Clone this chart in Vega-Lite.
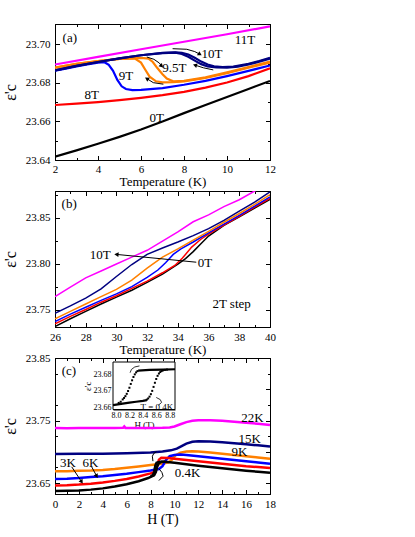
{
"$schema":"https://vega.github.io/schema/vega-lite/v6.json",
"padding":{"left":1,"top":23,"right":5,"bottom":5},
"bounds":"flush",
"spacing":31,
"datasets":{
"a":[
{"f":"0T","s":"0T","x":2,"y":23.6417},{"f":"0T","s":"0T","x":3,"y":23.645},{"f":"0T","s":"0T","x":4,"y":23.6484},{"f":"0T","s":"0T","x":5,"y":23.652},{"f":"0T","s":"0T","x":6,"y":23.6558},{"f":"0T","s":"0T","x":7,"y":23.66},{"f":"0T","s":"0T","x":8,"y":23.6643},{"f":"0T","s":"0T","x":9,"y":23.6685},{"f":"0T","s":"0T","x":10,"y":23.6727},{"f":"0T","s":"0T","x":11,"y":23.6768},{"f":"0T","s":"0T","x":12,"y":23.681},
{"f":"8T","s":"8T","x":2,"y":23.6685},{"f":"8T","s":"8T","x":3,"y":23.6692},{"f":"8T","s":"8T","x":4,"y":23.67},{"f":"8T","s":"8T","x":5,"y":23.671},{"f":"8T","s":"8T","x":6,"y":23.6722},{"f":"8T","s":"8T","x":7,"y":23.6736},{"f":"8T","s":"8T","x":8,"y":23.6753},{"f":"8T","s":"8T","x":9,"y":23.6775},{"f":"8T","s":"8T","x":10,"y":23.6802},{"f":"8T","s":"8T","x":11,"y":23.6835},{"f":"8T","s":"8T","x":12,"y":23.6875},
{"f":"9T","s":"9T","x":2,"y":23.6863},{"f":"9T","s":"9T","x":2.5,"y":23.6874},{"f":"9T","s":"9T","x":3,"y":23.6885},{"f":"9T","s":"9T","x":3.5,"y":23.6896},{"f":"9T","s":"9T","x":4,"y":23.6905},{"f":"9T","s":"9T","x":4.3,"y":23.6907},{"f":"9T","s":"9T","x":4.5,"y":23.6893},{"f":"9T","s":"9T","x":4.7,"y":23.6862},{"f":"9T","s":"9T","x":4.9,"y":23.6815},{"f":"9T","s":"9T","x":5.1,"y":23.6782},{"f":"9T","s":"9T","x":5.3,"y":23.6768},{"f":"9T","s":"9T","x":5.6,"y":23.6762},{"f":"9T","s":"9T","x":6,"y":23.6764},{"f":"9T","s":"9T","x":7,"y":23.6773},{"f":"9T","s":"9T","x":8,"y":23.679},{"f":"9T","s":"9T","x":9,"y":23.681},{"f":"9T","s":"9T","x":10,"y":23.6835},{"f":"9T","s":"9T","x":11,"y":23.6862},{"f":"9T","s":"9T","x":12,"y":23.689},
{"f":"9.5T","s":"9.5a","x":2,"y":23.6879},{"f":"9.5T","s":"9.5a","x":3,"y":23.6898},{"f":"9.5T","s":"9.5a","x":4,"y":23.6913},{"f":"9.5T","s":"9.5a","x":5,"y":23.6924},{"f":"9.5T","s":"9.5a","x":5.7,"y":23.6927},{"f":"9.5T","s":"9.5a","x":6,"y":23.6905},{"f":"9.5T","s":"9.5a","x":6.2,"y":23.6868},{"f":"9.5T","s":"9.5a","x":6.4,"y":23.6832},{"f":"9.5T","s":"9.5a","x":6.7,"y":23.6808},{"f":"9.5T","s":"9.5a","x":7,"y":23.6802},{"f":"9.5T","s":"9.5a","x":7.5,"y":23.6803},{"f":"9.5T","s":"9.5a","x":8,"y":23.6808},{"f":"9.5T","s":"9.5a","x":9,"y":23.6825},{"f":"9.5T","s":"9.5a","x":10,"y":23.685},{"f":"9.5T","s":"9.5a","x":11,"y":23.6878},{"f":"9.5T","s":"9.5a","x":12,"y":23.6905},
{"f":"9.5T","s":"9.5b","x":2,"y":23.6879},{"f":"9.5T","s":"9.5b","x":3,"y":23.6898},{"f":"9.5T","s":"9.5b","x":4,"y":23.6913},{"f":"9.5T","s":"9.5b","x":5,"y":23.6924},{"f":"9.5T","s":"9.5b","x":6,"y":23.6929},{"f":"9.5T","s":"9.5b","x":6.35,"y":23.6926},{"f":"9.5T","s":"9.5b","x":6.55,"y":23.6908},{"f":"9.5T","s":"9.5b","x":6.75,"y":23.6878},{"f":"9.5T","s":"9.5b","x":7,"y":23.6845},{"f":"9.5T","s":"9.5b","x":7.2,"y":23.6822},{"f":"9.5T","s":"9.5b","x":7.5,"y":23.6808},{"f":"9.5T","s":"9.5b","x":8,"y":23.681},{"f":"9.5T","s":"9.5b","x":9,"y":23.6828},{"f":"9.5T","s":"9.5b","x":10,"y":23.6854},{"f":"9.5T","s":"9.5b","x":11,"y":23.6882},{"f":"9.5T","s":"9.5b","x":12,"y":23.691},
{"f":"10T","s":"10a","x":2,"y":23.6865},{"f":"10T","s":"10a","x":3,"y":23.6888},{"f":"10T","s":"10a","x":4,"y":23.6908},{"f":"10T","s":"10a","x":5,"y":23.6927},{"f":"10T","s":"10a","x":6,"y":23.6943},{"f":"10T","s":"10a","x":7,"y":23.6954},{"f":"10T","s":"10a","x":7.6,"y":23.6957},{"f":"10T","s":"10a","x":7.9,"y":23.695},{"f":"10T","s":"10a","x":8.2,"y":23.6935},{"f":"10T","s":"10a","x":8.5,"y":23.6915},{"f":"10T","s":"10a","x":8.8,"y":23.6897},{"f":"10T","s":"10a","x":9.1,"y":23.6885},{"f":"10T","s":"10a","x":9.5,"y":23.688},{"f":"10T","s":"10a","x":10,"y":23.6879},{"f":"10T","s":"10a","x":10.5,"y":23.6884},{"f":"10T","s":"10a","x":11,"y":23.6895},{"f":"10T","s":"10a","x":11.5,"y":23.691},{"f":"10T","s":"10a","x":12,"y":23.6926},
{"f":"10T","s":"10b","x":2,"y":23.6865},{"f":"10T","s":"10b","x":3,"y":23.6888},{"f":"10T","s":"10b","x":4,"y":23.6908},{"f":"10T","s":"10b","x":5,"y":23.6927},{"f":"10T","s":"10b","x":6,"y":23.6943},{"f":"10T","s":"10b","x":7,"y":23.6955},{"f":"10T","s":"10b","x":7.6,"y":23.6958},{"f":"10T","s":"10b","x":7.9,"y":23.6956},{"f":"10T","s":"10b","x":8.2,"y":23.6947},{"f":"10T","s":"10b","x":8.5,"y":23.693},{"f":"10T","s":"10b","x":8.8,"y":23.691},{"f":"10T","s":"10b","x":9.1,"y":23.6895},{"f":"10T","s":"10b","x":9.4,"y":23.6886},{"f":"10T","s":"10b","x":9.8,"y":23.6882},{"f":"10T","s":"10b","x":10.3,"y":23.6884},{"f":"10T","s":"10b","x":11,"y":23.6898},{"f":"10T","s":"10b","x":11.5,"y":23.6913},{"f":"10T","s":"10b","x":12,"y":23.693},
{"f":"11T","s":"11T","x":2,"y":23.6895},{"f":"11T","s":"11T","x":4,"y":23.6935},{"f":"11T","s":"11T","x":6,"y":23.6974},{"f":"11T","s":"11T","x":8,"y":23.7013},{"f":"11T","s":"11T","x":10,"y":23.7052},{"f":"11T","s":"11T","x":12,"y":23.7093}
],
"aText":[
{"x":2.69,"y":23.7034,"t":"(a)"},{"x":10.84,"y":23.7022,"t":"11T"},{"x":9.3,"y":23.6948,"t":"10T"},{"x":7.55,"y":23.6875,"t":"9.5T"},{"x":5.3,"y":23.6836,"t":"9T"},{"x":3.71,"y":23.6736,"t":"8T"},{"x":6.73,"y":23.662,"t":"0T"}
],
"aArrow":[
{"a":"A1","i":0,"x":7.47,"y":23.6977},{"a":"A1","i":1,"x":8.13,"y":23.6974},{"a":"A1","i":2,"x":8.5,"y":23.6962},{"a":"A1","i":3,"x":8.74,"y":23.6948},
{"a":"A2","i":0,"x":9.36,"y":23.6867},{"a":"A2","i":1,"x":8.9,"y":23.6878},{"a":"A2","i":2,"x":8.51,"y":23.6892},
{"a":"A3","i":0,"x":6.27,"y":23.6934},{"a":"A3","i":1,"x":6.6,"y":23.6922},{"a":"A3","i":2,"x":6.85,"y":23.6903},{"a":"A3","i":3,"x":6.96,"y":23.6887},
{"a":"A4","i":0,"x":7.04,"y":23.6793},{"a":"A4","i":1,"x":6.57,"y":23.6801},{"a":"A4","i":2,"x":6.27,"y":23.6822}
],
"b":[
{"f":"0T","x":26,"y":23.7315},{"f":"0T","x":27,"y":23.74},{"f":"0T","x":28,"y":23.748},{"f":"0T","x":29,"y":23.756},{"f":"0T","x":30,"y":23.7635},{"f":"0T","x":31,"y":23.771},{"f":"0T","x":32,"y":23.7795},{"f":"0T","x":33,"y":23.7885},{"f":"0T","x":34,"y":23.7995},{"f":"0T","x":34.5,"y":23.8055},{"f":"0T","x":35,"y":23.813},{"f":"0T","x":35.5,"y":23.8215},{"f":"0T","x":36,"y":23.83},{"f":"0T","x":37,"y":23.8415},{"f":"0T","x":38,"y":23.851},{"f":"0T","x":39,"y":23.8605},{"f":"0T","x":40,"y":23.87},
{"f":"2T","x":26,"y":23.7345},{"f":"2T","x":27,"y":23.7425},{"f":"2T","x":28,"y":23.75},{"f":"2T","x":29,"y":23.758},{"f":"2T","x":30,"y":23.765},{"f":"2T","x":31,"y":23.773},{"f":"2T","x":32,"y":23.781},{"f":"2T","x":33,"y":23.79},{"f":"2T","x":33.8,"y":23.798},{"f":"2T","x":34.3,"y":23.806},{"f":"2T","x":34.9,"y":23.818},{"f":"2T","x":35.5,"y":23.8265},{"f":"2T","x":36,"y":23.832},{"f":"2T","x":37,"y":23.842},{"f":"2T","x":38,"y":23.8515},{"f":"2T","x":39,"y":23.8615},{"f":"2T","x":40,"y":23.871},
{"f":"4T","x":26,"y":23.737},{"f":"4T","x":27,"y":23.745},{"f":"4T","x":28,"y":23.7525},{"f":"4T","x":29,"y":23.76},{"f":"4T","x":30,"y":23.767},{"f":"4T","x":31,"y":23.775},{"f":"4T","x":32,"y":23.785},{"f":"4T","x":32.7,"y":23.793},{"f":"4T","x":33.2,"y":23.801},{"f":"4T","x":33.7,"y":23.81},{"f":"4T","x":34.2,"y":23.816},{"f":"4T","x":35,"y":23.8235},{"f":"4T","x":36,"y":23.8335},{"f":"4T","x":37,"y":23.843},{"f":"4T","x":38,"y":23.8525},{"f":"4T","x":39,"y":23.8625},{"f":"4T","x":40,"y":23.8725},
{"f":"6T","x":26,"y":23.74},{"f":"6T","x":27,"y":23.748},{"f":"6T","x":28,"y":23.756},{"f":"6T","x":29,"y":23.764},{"f":"6T","x":30,"y":23.772},{"f":"6T","x":31,"y":23.782},{"f":"6T","x":32,"y":23.795},{"f":"6T","x":33,"y":23.807},{"f":"6T","x":34,"y":23.816},{"f":"6T","x":35,"y":23.8255},{"f":"6T","x":36,"y":23.835},{"f":"6T","x":37,"y":23.845},{"f":"6T","x":38,"y":23.8545},{"f":"6T","x":39,"y":23.8645},{"f":"6T","x":40,"y":23.875},
{"f":"8T","x":26,"y":23.746},{"f":"8T","x":27,"y":23.754},{"f":"8T","x":28,"y":23.7625},{"f":"8T","x":29,"y":23.7725},{"f":"8T","x":30,"y":23.786},{"f":"8T","x":31,"y":23.799},{"f":"8T","x":32,"y":23.81},{"f":"8T","x":33,"y":23.817},{"f":"8T","x":34,"y":23.8235},{"f":"8T","x":35,"y":23.8305},{"f":"8T","x":36,"y":23.838},{"f":"8T","x":37,"y":23.847},{"f":"8T","x":38,"y":23.857},{"f":"8T","x":39,"y":23.867},{"f":"8T","x":40,"y":23.878},
{"f":"10T","x":26,"y":23.764},{"f":"10T","x":27,"y":23.7745},{"f":"10T","x":28,"y":23.7845},{"f":"10T","x":29,"y":23.792},{"f":"10T","x":30,"y":23.7995},{"f":"10T","x":31,"y":23.807},{"f":"10T","x":32,"y":23.8145},{"f":"10T","x":33,"y":23.8245},{"f":"10T","x":34,"y":23.8345},{"f":"10T","x":35,"y":23.8455},{"f":"10T","x":36,"y":23.853},{"f":"10T","x":37,"y":23.862},{"f":"10T","x":38,"y":23.8695},{"f":"10T","x":39,"y":23.879},{"f":"10T","x":39.5,"y":23.884}
],
"bText":[
{"x":26.92,"y":23.865,"t":"(b)"},{"x":28.95,"y":23.8098,"t":"10T"},{"x":35.77,"y":23.8006,"t":"0T"},{"x":37.5,"y":23.7556,"t":"2T step"}
],
"bArrow":[
{"a":"B1","i":0,"x":35.2,"y":23.8015},{"a":"B1","i":1,"x":30.0,"y":23.81}
],
"c":[
{"f":"22K","s":"22K","x":0,"y":23.738},{"f":"22K","s":"22K","x":1,"y":23.7378},{"f":"22K","s":"22K","x":2,"y":23.7382},{"f":"22K","s":"22K","x":3,"y":23.7379},{"f":"22K","s":"22K","x":4,"y":23.738},{"f":"22K","s":"22K","x":5,"y":23.7381},{"f":"22K","s":"22K","x":5.7,"y":23.7383},{"f":"22K","s":"22K","x":5.8,"y":23.7405},{"f":"22K","s":"22K","x":5.9,"y":23.7382},{"f":"22K","s":"22K","x":7,"y":23.738},{"f":"22K","s":"22K","x":8,"y":23.738},{"f":"22K","s":"22K","x":9,"y":23.7383},{"f":"22K","s":"22K","x":9.6,"y":23.7388},{"f":"22K","s":"22K","x":10,"y":23.7405},{"f":"22K","s":"22K","x":10.5,"y":23.744},{"f":"22K","s":"22K","x":11,"y":23.7475},{"f":"22K","s":"22K","x":11.5,"y":23.7495},{"f":"22K","s":"22K","x":12,"y":23.7505},{"f":"22K","s":"22K","x":13,"y":23.7505},{"f":"22K","s":"22K","x":14,"y":23.7495},{"f":"22K","s":"22K","x":15,"y":23.748},{"f":"22K","s":"22K","x":16,"y":23.7465},{"f":"22K","s":"22K","x":17,"y":23.7448},{"f":"22K","s":"22K","x":18,"y":23.7428},
{"f":"15K","s":"15K","x":0,"y":23.6965},{"f":"15K","s":"15K","x":2,"y":23.6967},{"f":"15K","s":"15K","x":4,"y":23.697},{"f":"15K","s":"15K","x":6,"y":23.6975},{"f":"15K","s":"15K","x":8,"y":23.6988},{"f":"15K","s":"15K","x":9,"y":23.7003},{"f":"15K","s":"15K","x":9.7,"y":23.7023},{"f":"15K","s":"15K","x":10.2,"y":23.705},{"f":"15K","s":"15K","x":10.6,"y":23.709},{"f":"15K","s":"15K","x":11,"y":23.713},{"f":"15K","s":"15K","x":11.5,"y":23.716},{"f":"15K","s":"15K","x":12,"y":23.717},{"f":"15K","s":"15K","x":13,"y":23.7165},{"f":"15K","s":"15K","x":14,"y":23.7152},{"f":"15K","s":"15K","x":15,"y":23.7136},{"f":"15K","s":"15K","x":16,"y":23.712},{"f":"15K","s":"15K","x":17,"y":23.7103},{"f":"15K","s":"15K","x":18,"y":23.7085},
{"f":"9K","s":"9K","x":0,"y":23.669},{"f":"9K","s":"9K","x":1,"y":23.669},{"f":"9K","s":"9K","x":2,"y":23.6695},{"f":"9K","s":"9K","x":3,"y":23.67},{"f":"9K","s":"9K","x":4,"y":23.671},{"f":"9K","s":"9K","x":5,"y":23.6725},{"f":"9K","s":"9K","x":6,"y":23.6745},{"f":"9K","s":"9K","x":7,"y":23.6765},{"f":"9K","s":"9K","x":8,"y":23.6787},{"f":"9K","s":"9K","x":9,"y":23.681},{"f":"9K","s":"9K","x":9.5,"y":23.683},{"f":"9K","s":"9K","x":9.8,"y":23.6875},{"f":"9K","s":"9K","x":10.1,"y":23.6945},{"f":"9K","s":"9K","x":10.5,"y":23.6985},{"f":"9K","s":"9K","x":11,"y":23.7005},{"f":"9K","s":"9K","x":11.5,"y":23.701},{"f":"9K","s":"9K","x":12,"y":23.7005},{"f":"9K","s":"9K","x":13,"y":23.699},{"f":"9K","s":"9K","x":14,"y":23.697},{"f":"9K","s":"9K","x":15,"y":23.695},{"f":"9K","s":"9K","x":16,"y":23.693},{"f":"9K","s":"9K","x":17,"y":23.691},{"f":"9K","s":"9K","x":18,"y":23.689},
{"f":"6K","s":"6K","x":0,"y":23.6565},{"f":"6K","s":"6K","x":1,"y":23.657},{"f":"6K","s":"6K","x":2,"y":23.658},{"f":"6K","s":"6K","x":3,"y":23.6595},{"f":"6K","s":"6K","x":4,"y":23.661},{"f":"6K","s":"6K","x":5,"y":23.663},{"f":"6K","s":"6K","x":6,"y":23.665},{"f":"6K","s":"6K","x":7,"y":23.6675},{"f":"6K","s":"6K","x":8,"y":23.67},{"f":"6K","s":"6K","x":8.7,"y":23.6725},{"f":"6K","s":"6K","x":9,"y":23.677},{"f":"6K","s":"6K","x":9.3,"y":23.687},{"f":"6K","s":"6K","x":9.6,"y":23.693},{"f":"6K","s":"6K","x":10,"y":23.695},{"f":"6K","s":"6K","x":10.5,"y":23.6955},{"f":"6K","s":"6K","x":11,"y":23.695},{"f":"6K","s":"6K","x":12,"y":23.693},{"f":"6K","s":"6K","x":13,"y":23.691},{"f":"6K","s":"6K","x":14,"y":23.689},{"f":"6K","s":"6K","x":15,"y":23.687},{"f":"6K","s":"6K","x":16,"y":23.685},{"f":"6K","s":"6K","x":17,"y":23.683},{"f":"6K","s":"6K","x":18,"y":23.681},
{"f":"3K","s":"3K","x":0,"y":23.6462},{"f":"3K","s":"3K","x":1,"y":23.6466},{"f":"3K","s":"3K","x":2,"y":23.6475},{"f":"3K","s":"3K","x":3,"y":23.649},{"f":"3K","s":"3K","x":4,"y":23.651},{"f":"3K","s":"3K","x":5,"y":23.6535},{"f":"3K","s":"3K","x":6,"y":23.6565},{"f":"3K","s":"3K","x":7,"y":23.6605},{"f":"3K","s":"3K","x":8,"y":23.6655},{"f":"3K","s":"3K","x":8.4,"y":23.668},{"f":"3K","s":"3K","x":8.55,"y":23.677},{"f":"3K","s":"3K","x":8.7,"y":23.6875},{"f":"3K","s":"3K","x":8.9,"y":23.6905},{"f":"3K","s":"3K","x":9.5,"y":23.69},{"f":"3K","s":"3K","x":10,"y":23.689},{"f":"3K","s":"3K","x":11,"y":23.687},{"f":"3K","s":"3K","x":12,"y":23.685},{"f":"3K","s":"3K","x":13,"y":23.683},{"f":"3K","s":"3K","x":14,"y":23.681},{"f":"3K","s":"3K","x":15,"y":23.679},{"f":"3K","s":"3K","x":16,"y":23.677},{"f":"3K","s":"3K","x":17,"y":23.6755},{"f":"3K","s":"3K","x":18,"y":23.674},
{"f":"0.4K","s":"0.4Ka","x":0,"y":23.6372},{"f":"0.4K","s":"0.4Ka","x":1,"y":23.6375},{"f":"0.4K","s":"0.4Ka","x":2,"y":23.638},{"f":"0.4K","s":"0.4Ka","x":3,"y":23.6395},{"f":"0.4K","s":"0.4Ka","x":4,"y":23.6415},{"f":"0.4K","s":"0.4Ka","x":5,"y":23.6445},{"f":"0.4K","s":"0.4Ka","x":6,"y":23.648},{"f":"0.4K","s":"0.4Ka","x":7,"y":23.653},{"f":"0.4K","s":"0.4Ka","x":7.8,"y":23.658},{"f":"0.4K","s":"0.4Ka","x":8.3,"y":23.6625},{"f":"0.4K","s":"0.4Ka","x":8.45,"y":23.668},{"f":"0.4K","s":"0.4Ka","x":8.55,"y":23.676},{"f":"0.4K","s":"0.4Ka","x":8.7,"y":23.682},{"f":"0.4K","s":"0.4Ka","x":8.9,"y":23.684},{"f":"0.4K","s":"0.4Ka","x":9.2,"y":23.684},{"f":"0.4K","s":"0.4Ka","x":10,"y":23.6823},{"f":"0.4K","s":"0.4Ka","x":11,"y":23.68},{"f":"0.4K","s":"0.4Ka","x":12,"y":23.6778},{"f":"0.4K","s":"0.4Ka","x":13,"y":23.6757},{"f":"0.4K","s":"0.4Ka","x":14,"y":23.6737},{"f":"0.4K","s":"0.4Ka","x":15,"y":23.6717},{"f":"0.4K","s":"0.4Ka","x":16,"y":23.6698},{"f":"0.4K","s":"0.4Ka","x":17,"y":23.668},{"f":"0.4K","s":"0.4Ka","x":18,"y":23.6665},
{"f":"0.4K","s":"0.4Kb","x":8.0,"y":23.661},{"f":"0.4K","s":"0.4Kb","x":8.2,"y":23.6625},{"f":"0.4K","s":"0.4Kb","x":8.3,"y":23.668},{"f":"0.4K","s":"0.4Kb","x":8.4,"y":23.678},{"f":"0.4K","s":"0.4Kb","x":8.5,"y":23.6825},{"f":"0.4K","s":"0.4Kb","x":8.7,"y":23.6835},{"f":"0.4K","s":"0.4Kb","x":9.2,"y":23.684}
],
"cText":[
{"x":1.16,"y":23.8294,"t":"(c)"},{"x":16.53,"y":23.754,"t":"22K"},{"x":16.3,"y":23.7205,"t":"15K"},{"x":15.45,"y":23.6995,"t":"9K"},{"x":1.09,"y":23.6817,"t":"3K"},{"x":2.97,"y":23.6822,"t":"6K"},{"x":11.09,"y":23.6659,"t":"0.4K"}
],
"cArrow":[
{"a":"C1","i":0,"x":1.4,"y":23.6759},{"a":"C1","i":1,"x":2.23,"y":23.652},
{"a":"C2","i":0,"x":3.07,"y":23.676},{"a":"C2","i":1,"x":3.49,"y":23.6611},
{"a":"L1","i":0,"x":8.5,"y":23.7},{"a":"L1","i":1,"x":8.3,"y":23.698},{"a":"L1","i":2,"x":8.15,"y":23.693},{"a":"L1","i":3,"x":8.2,"y":23.685},
{"a":"L2","i":0,"x":8.7,"y":23.673},{"a":"L2","i":1,"x":8.95,"y":23.667},{"a":"L2","i":2,"x":9.05,"y":23.661},{"a":"L2","i":3,"x":8.7,"y":23.654}
],
"inLine":[
{"s":"lo","x":7.955,"y":23.6612},{"s":"lo","x":8.1,"y":23.6621},{"s":"lo","x":8.2,"y":23.6627},{"s":"lo","x":8.3,"y":23.6632},{"s":"lo","x":8.4,"y":23.6637},{"s":"lo","x":8.46,"y":23.6642},
{"s":"hi","x":8.33,"y":23.6821},{"s":"hi","x":8.5,"y":23.6825},{"s":"hi","x":8.7,"y":23.6827},{"s":"hi","x":8.88,"y":23.6829}
],
"inPts":[
{"x":8.46,"y":23.6645},{"x":8.48,"y":23.6652},{"x":8.5,"y":23.6663},{"x":8.52,"y":23.6678},{"x":8.54,"y":23.6698},{"x":8.56,"y":23.6722},{"x":8.58,"y":23.6747},{"x":8.6,"y":23.677},{"x":8.62,"y":23.6789},{"x":8.64,"y":23.6803},{"x":8.66,"y":23.6812},{"x":8.68,"y":23.6818},{"x":8.7,"y":23.6822},{"x":8.73,"y":23.6825},{"x":8.76,"y":23.6827},
{"x":8.32,"y":23.6818},{"x":8.3,"y":23.681},{"x":8.28,"y":23.6798},{"x":8.26,"y":23.6782},{"x":8.24,"y":23.6762},{"x":8.22,"y":23.674},{"x":8.2,"y":23.6717},{"x":8.18,"y":23.6697},{"x":8.16,"y":23.668},{"x":8.14,"y":23.6666},{"x":8.12,"y":23.6655},{"x":8.1,"y":23.6646},{"x":8.07,"y":23.6632},{"x":8.04,"y":23.6625}
],
"inArc":[
{"a":"I1","i":0,"x":8.35,"y":23.6849},{"a":"I1","i":1,"x":8.28,"y":23.6843},{"a":"I1","i":2,"x":8.23,"y":23.6828},{"a":"I1","i":3,"x":8.21,"y":23.6808},
{"a":"I2","i":0,"x":8.6,"y":23.6658},{"a":"I2","i":1,"x":8.66,"y":23.6645},{"a":"I2","i":2,"x":8.68,"y":23.6628},{"a":"I2","i":3,"x":8.63,"y":23.661}
],
"inText":[{"x":8.61,"y":23.6601,"t":"T = 0.4K"}]
},
"vconcat":[
{
"width":215,"height":136,
"layer":[
{"layer":[
{"data":{"name":"a"},"mark":{"type":"line","strokeWidth":2.2,"clip":true},
"encoding":{
"x":{"field":"x","type":"quantitative","title":"Temperature (K)","scale":{"domain":[2,12],"nice":false,"zero":false},"axis":{"title":"Temperature (K)","values":[2,4,6,8,10,12],"labelOverlap":false,"titlePadding":1}},
"y":{"field":"y","type":"quantitative","title":"ε'c","scale":{"domain":[23.64,23.7105],"nice":false,"zero":false},"axis":{"title":"ε'c","values":[23.64,23.66,23.68,23.7],"format":".2f","labelOverlap":false}},
"color":{"field":"f","type":"nominal","scale":{"domain":["0T","8T","9T","9.5T","10T","11T"],"range":["#000000","#ff0000","#0000ff","#ff8000","#000080","#ff00ff"]},"legend":null},
"detail":{"field":"s"}}},
{"data":{"name":"aArrow"},"mark":{"type":"line","color":"black","strokeWidth":1,"clip":true},
"encoding":{"x":{"field":"x","type":"quantitative","title":"Temperature (K)"},"y":{"field":"y","type":"quantitative","title":"ε'c"},"detail":{"field":"a"},"order":{"field":"i"}}},
{"data":{"name":"aArrow"},"transform":[{"filter":"datum.a=='A1' && datum.i==3"}],"mark":{"type":"point","shape":"triangle-right","filled":true,"color":"black","opacity":1,"size":22,"angle":30},
"encoding":{"x":{"field":"x","type":"quantitative","title":"Temperature (K)"},"y":{"field":"y","type":"quantitative","title":"ε'c"}}},
{"data":{"name":"aArrow"},"transform":[{"filter":"datum.a=='A2' && datum.i==2"}],"mark":{"type":"point","shape":"triangle-left","filled":true,"color":"black","opacity":1,"size":22,"angle":17},
"encoding":{"x":{"field":"x","type":"quantitative","title":"Temperature (K)"},"y":{"field":"y","type":"quantitative","title":"ε'c"}}},
{"data":{"name":"aArrow"},"transform":[{"filter":"datum.a=='A3' && datum.i==3"}],"mark":{"type":"point","shape":"triangle-right","filled":true,"color":"black","opacity":1,"size":22,"angle":45},
"encoding":{"x":{"field":"x","type":"quantitative","title":"Temperature (K)"},"y":{"field":"y","type":"quantitative","title":"ε'c"}}},
{"data":{"name":"aArrow"},"transform":[{"filter":"datum.a=='A4' && datum.i==2"}],"mark":{"type":"point","shape":"triangle-left","filled":true,"color":"black","opacity":1,"size":22,"angle":32},
"encoding":{"x":{"field":"x","type":"quantitative","title":"Temperature (K)"},"y":{"field":"y","type":"quantitative","title":"ε'c"}}},
{"data":{"name":"aText"},"mark":{"type":"text","fontSize":13,"font":"Liberation Serif","color":"black"},
"encoding":{"x":{"field":"x","type":"quantitative","title":"Temperature (K)"},"y":{"field":"y","type":"quantitative","title":"ε'c"},"text":{"field":"t"}}}
]},
{"data":{"name":"a"},"mark":{"type":"point","opacity":0},
"encoding":{"x":{"field":"x","type":"quantitative","scale":{"domain":[2,12],"nice":false,"zero":false},"axis":{"orient":"top","labels":false,"title":null,"values":[2,4,6,8,10,12]}},
"y":{"field":"y","type":"quantitative","scale":{"domain":[23.64,23.7105],"nice":false,"zero":false},"axis":{"orient":"right","labels":false,"title":null,"values":[23.64,23.66,23.68,23.7]}}}},
{"data":{"name":"a"},"mark":{"type":"point","opacity":0},
"encoding":{"x":{"field":"x","type":"quantitative","scale":{"domain":[2,12],"nice":false,"zero":false},"axis":{"orient":"bottom","labels":false,"title":null,"domain":false,"tickSize":-2.5,"values":[3,5,7,9,11]}},
"y":{"field":"y","type":"quantitative","scale":{"domain":[23.64,23.7105],"nice":false,"zero":false},"axis":{"orient":"left","labels":false,"title":null,"domain":false,"tickSize":-2.5,"values":[23.65,23.67,23.69]}}}},
{"data":{"name":"a"},"mark":{"type":"point","opacity":0},
"encoding":{"x":{"field":"x","type":"quantitative","scale":{"domain":[2,12],"nice":false,"zero":false},"axis":{"orient":"top","labels":false,"title":null,"domain":false,"tickSize":-2.5,"values":[3,5,7,9,11]}},
"y":{"field":"y","type":"quantitative","scale":{"domain":[23.64,23.7105],"nice":false,"zero":false},"axis":{"orient":"right","labels":false,"title":null,"domain":false,"tickSize":-2.5,"values":[23.65,23.67,23.69]}}}}
],
"resolve":{"axis":{"x":"independent","y":"independent"}}
},
{
"width":215,"height":136,
"layer":[
{"layer":[
{"data":{"name":"b"},"mark":{"type":"line","strokeWidth":1.5,"clip":true},
"encoding":{
"x":{"field":"x","type":"quantitative","title":"Temperature (K)","scale":{"domain":[26,40],"nice":false,"zero":false},"axis":{"title":"Temperature (K)","values":[26,30,34,38],"labelOverlap":false,"labelPadding":8.5,"titlePadding":1}},
"y":{"field":"y","type":"quantitative","title":"ε'c","scale":{"domain":[23.731,23.879],"nice":false,"zero":false},"axis":{"title":"ε'c","values":[23.75,23.8,23.85],"format":".2f","labelOverlap":false}},
"color":{"field":"f","type":"nominal","scale":{"domain":["0T","2T","4T","6T","8T","10T"],"range":["#000000","#ff0000","#0000ff","#ff8000","#000080","#ff00ff"]},"legend":null}}},
{"data":{"name":"bArrow"},"mark":{"type":"line","color":"black","strokeWidth":1},
"encoding":{"x":{"field":"x","type":"quantitative","title":"Temperature (K)"},"y":{"field":"y","type":"quantitative","title":"ε'c"},"detail":{"field":"a"},"order":{"field":"i"}}},
{"data":{"name":"bArrow"},"transform":[{"filter":"datum.i==1"}],"mark":{"type":"point","shape":"triangle-left","filled":true,"color":"black","opacity":1,"size":24,"angle":5},
"encoding":{"x":{"field":"x","type":"quantitative","title":"Temperature (K)"},"y":{"field":"y","type":"quantitative","title":"ε'c"}}},
{"data":{"name":"bText"},"mark":{"type":"text","fontSize":13,"font":"Liberation Serif","color":"black"},
"encoding":{"x":{"field":"x","type":"quantitative","title":"Temperature (K)"},"y":{"field":"y","type":"quantitative","title":"ε'c"},"text":{"field":"t"}}}
]},
{"data":{"name":"b"},"mark":{"type":"point","opacity":0},
"encoding":{"x":{"field":"x","type":"quantitative","scale":{"domain":[26,40],"nice":false,"zero":false},"axis":{"orient":"top","labels":false,"title":null,"values":[26,28,30,32,34,36,38,40]}},
"y":{"field":"y","type":"quantitative","scale":{"domain":[23.731,23.879],"nice":false,"zero":false},"axis":{"orient":"right","labels":false,"title":null,"values":[23.75,23.8,23.85]}}}},
{"data":{"name":"b"},"mark":{"type":"point","opacity":0},
"encoding":{"x":{"field":"x","type":"quantitative","scale":{"domain":[26,40],"nice":false,"zero":false},"axis":{"orient":"bottom","title":null,"domain":false,"values":[28,32,36,40],"labelOverlap":false,"labelPadding":8.5}},
"y":{"field":"y","type":"quantitative","scale":{"domain":[23.731,23.879],"nice":false,"zero":false},"axis":null}}},
{"data":{"name":"b"},"mark":{"type":"point","opacity":0},
"encoding":{"x":{"field":"x","type":"quantitative","scale":{"domain":[26,40],"nice":false,"zero":false},"axis":{"orient":"bottom","labels":false,"title":null,"domain":false,"tickSize":-2.5,"values":[27,29,31,33,35,37,39]}},
"y":{"field":"y","type":"quantitative","scale":{"domain":[23.731,23.879],"nice":false,"zero":false},"axis":{"orient":"left","labels":false,"title":null,"domain":false,"tickSize":-2.5,"values":[23.775,23.825,23.875]}}}},
{"data":{"name":"b"},"mark":{"type":"point","opacity":0},
"encoding":{"x":{"field":"x","type":"quantitative","scale":{"domain":[26,40],"nice":false,"zero":false},"axis":{"orient":"top","labels":false,"title":null,"domain":false,"tickSize":-2.5,"values":[27,29,31,33,35,37,39]}},
"y":{"field":"y","type":"quantitative","scale":{"domain":[23.731,23.879],"nice":false,"zero":false},"axis":{"orient":"right","labels":false,"title":null,"domain":false,"tickSize":-2.5,"values":[23.775,23.825,23.875]}}}}
],
"resolve":{"axis":{"x":"independent","y":"independent"}}
},
{
"width":215,"height":136,
"layer":[
{"layer":[
{"data":{"name":"c"},"mark":{"type":"line","strokeWidth":2.5,"clip":true},
"encoding":{
"x":{"field":"x","type":"quantitative","title":"H (T)","scale":{"domain":[0,18],"nice":false,"zero":false},"axis":{"title":"H (T)","titleFontSize":14,"values":[0,4,8,12,16],"labelOverlap":false,"labelPadding":9,"titlePadding":3}},
"y":{"field":"y","type":"quantitative","title":"ε'c","scale":{"domain":[23.6325,23.85],"nice":false,"zero":false},"axis":{"title":"ε'c","values":[23.65,23.7,23.75,23.8,23.85],"format":".2f","labelOverlap":false}},
"color":{"field":"f","type":"nominal","scale":{"domain":["0.4K","3K","6K","9K","15K","22K"],"range":["#000000","#ff0000","#0000ff","#ff8000","#000080","#ff00ff"]},"legend":null},
"detail":{"field":"s"}}},
{"data":{"name":"cArrow"},"mark":{"type":"line","color":"black","strokeWidth":1},
"encoding":{"x":{"field":"x","type":"quantitative","title":"H (T)"},"y":{"field":"y","type":"quantitative","title":"ε'c"},"detail":{"field":"a"},"order":{"field":"i"}}},
{"data":{"name":"cArrow"},"transform":[{"filter":"datum.a=='C1' && datum.i==1"}],"mark":{"type":"point","shape":"triangle-right","filled":true,"color":"black","opacity":1,"size":22,"angle":57},
"encoding":{"x":{"field":"x","type":"quantitative","title":"H (T)"},"y":{"field":"y","type":"quantitative","title":"ε'c"}}},
{"data":{"name":"cArrow"},"transform":[{"filter":"datum.a=='C2' && datum.i==1"}],"mark":{"type":"point","shape":"triangle-right","filled":true,"color":"black","opacity":1,"size":22,"angle":62},
"encoding":{"x":{"field":"x","type":"quantitative","title":"H (T)"},"y":{"field":"y","type":"quantitative","title":"ε'c"}}},
{"data":{"name":"cText"},"mark":{"type":"text","fontSize":13,"font":"Liberation Serif","color":"black"},
"encoding":{"x":{"field":"x","type":"quantitative","title":"H (T)"},"y":{"field":"y","type":"quantitative","title":"ε'c"},"text":{"field":"t"}}}
]},
{"data":{"name":"c"},"mark":{"type":"point","opacity":0},
"encoding":{"x":{"field":"x","type":"quantitative","scale":{"domain":[0,18],"nice":false,"zero":false},"axis":{"orient":"top","labels":false,"title":null,"values":[0,2,4,6,8,10,12,14,16,18]}},
"y":{"field":"y","type":"quantitative","scale":{"domain":[23.6325,23.85],"nice":false,"zero":false},"axis":{"orient":"right","labels":false,"title":null,"values":[23.65,23.7,23.75,23.8,23.85]}}}},
{"data":{"name":"c"},"mark":{"type":"point","opacity":0},
"encoding":{"x":{"field":"x","type":"quantitative","scale":{"domain":[0,18],"nice":false,"zero":false},"axis":{"orient":"bottom","title":null,"domain":false,"values":[2,6,10,14,18],"labelOverlap":false,"labelPadding":9}},
"y":{"field":"y","type":"quantitative","scale":{"domain":[23.6325,23.85],"nice":false,"zero":false},"axis":null}}},
{"data":{"name":"c"},"mark":{"type":"point","opacity":0},
"encoding":{"x":{"field":"x","type":"quantitative","scale":{"domain":[0,18],"nice":false,"zero":false},"axis":{"orient":"bottom","labels":false,"title":null,"domain":false,"tickSize":-2.5,"values":[1,3,5,7,9,11,13,15,17]}},
"y":{"field":"y","type":"quantitative","scale":{"domain":[23.6325,23.85],"nice":false,"zero":false},"axis":{"orient":"left","labels":false,"title":null,"domain":false,"tickSize":-2.5,"values":[23.675,23.725,23.775,23.825]}}}},
{"data":{"name":"c"},"mark":{"type":"point","opacity":0},
"encoding":{"x":{"field":"x","type":"quantitative","scale":{"domain":[0,18],"nice":false,"zero":false},"axis":{"orient":"top","labels":false,"title":null,"domain":false,"tickSize":-2.5,"values":[1,3,5,7,9,11,13,15,17]}},
"y":{"field":"y","type":"quantitative","scale":{"domain":[23.6325,23.85],"nice":false,"zero":false},"axis":{"orient":"right","labels":false,"title":null,"domain":false,"tickSize":-2.5,"values":[23.675,23.725,23.775,23.825]}}}},
{"layer":[
{"data":{"values":[{}]},"mark":{"type":"rect","fill":"white","stroke":"black","strokeWidth":1},
"encoding":{
"x":{"datum":7.955,"type":"quantitative","title":"H (T)","scale":{"domain":[7.955,8.88],"range":[58,120],"nice":false,"zero":false},"axis":{"orient":"bottom","offset":-84.5,"values":[8.0,8.2,8.4,8.6,8.8],"format":".1f","title":"H (T)","labelFontSize":8,"titleFontSize":9,"tickSize":-2,"labelPadding":4,"titlePadding":1,"labelOverlap":false}},
"x2":{"datum":8.88},
"y":{"datum":23.6585,"type":"quantitative","title":"ε'c","scale":{"domain":[23.6585,23.6873],"range":[51.5,4],"nice":false,"zero":false},"axis":{"orient":"left","offset":-58,"values":[23.66,23.67,23.68],"format":".2f","title":"ε'c","labelFontSize":8,"titleFontSize":9,"tickSize":-2,"labelPadding":4,"titlePadding":1,"labelOverlap":false}},
"y2":{"datum":23.6873}}},
{"data":{"name":"inLine"},"mark":{"type":"line","color":"black","strokeWidth":2.2},
"encoding":{"x":{"field":"x","type":"quantitative","title":"H (T)"},"y":{"field":"y","type":"quantitative","title":"ε'c"},"detail":{"field":"s"}}},
{"data":{"name":"inPts"},"mark":{"type":"square","color":"black","size":4,"opacity":1},
"encoding":{"x":{"field":"x","type":"quantitative","title":"H (T)"},"y":{"field":"y","type":"quantitative","title":"ε'c"}}},
{"data":{"name":"inArc"},"mark":{"type":"line","color":"black","strokeWidth":0.8},
"encoding":{"x":{"field":"x","type":"quantitative","title":"H (T)"},"y":{"field":"y","type":"quantitative","title":"ε'c"},"detail":{"field":"a"},"order":{"field":"i"}}},
{"data":{"name":"inText"},"mark":{"type":"text","fontSize":9,"font":"Liberation Serif","color":"black"},
"encoding":{"x":{"field":"x","type":"quantitative","title":"H (T)"},"y":{"field":"y","type":"quantitative","title":"ε'c"},"text":{"field":"t"}}}
]}
],
"resolve":{"scale":{"x":"independent","y":"independent"},"axis":{"x":"independent","y":"independent"}}
}
],
"resolve":{"scale":{"color":"independent"}},
"config":{
"view":{"stroke":"black","strokeWidth":1},
"font":"Liberation Serif",
"axis":{"labelFont":"Liberation Serif","titleFont":"Liberation Serif","labelFontSize":11,"titleFontSize":13,"titleFontWeight":"normal","labelColor":"black","titleColor":"black","domainColor":"black","tickColor":"black","grid":false,"tickSize":-4.5,"labelFlush":false,"labelOverlap":false,"domainWidth":1,"tickWidth":1},
"axisY":{"titleFontSize":16,"titlePadding":7,"labelPadding":9.5},
"axisX":{"labelPadding":8,"titlePadding":-2},
"text":{"font":"Liberation Serif","fontSize":13,"color":"black"}
}
}
